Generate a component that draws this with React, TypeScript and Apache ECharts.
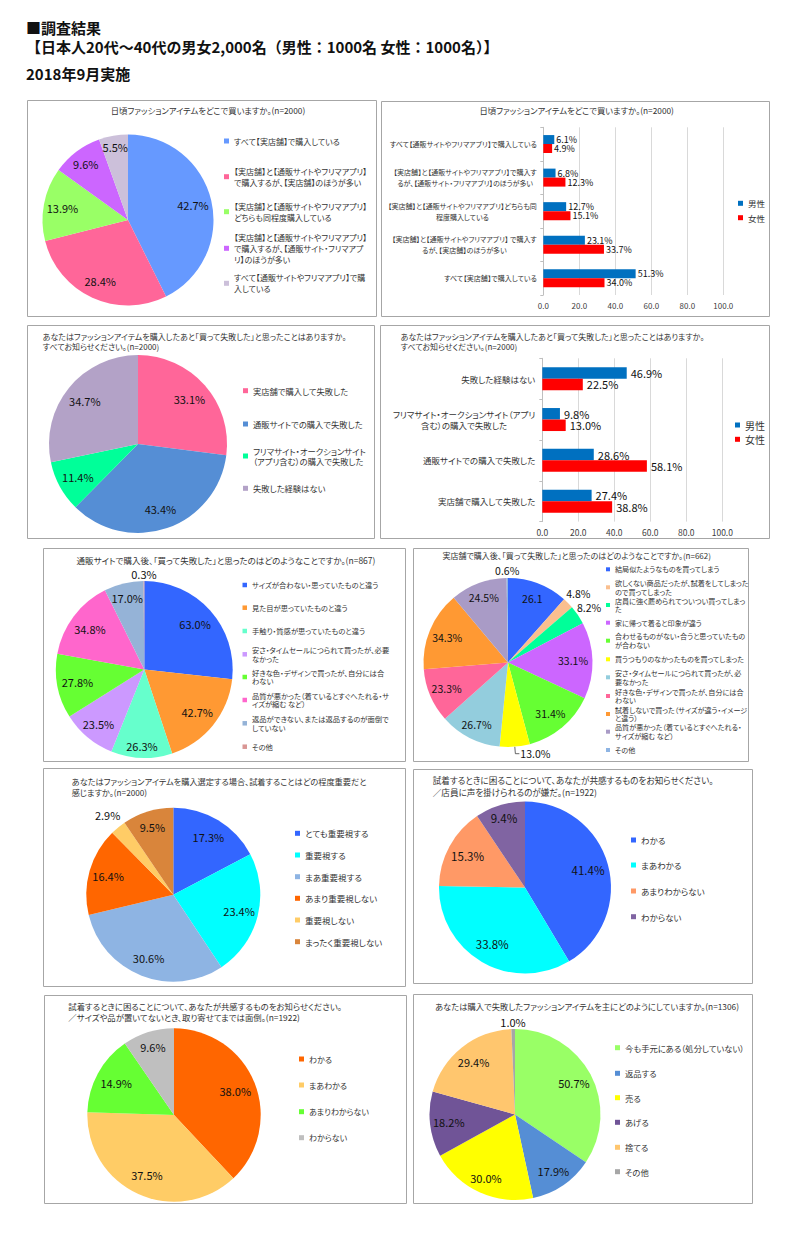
import React, { useEffect, useRef } from 'react';
import * as echarts from 'echarts';

const FONT = '"Noto Sans CJK JP", "Noto Sans", sans-serif';
const INK = '#333333';
const LABEL_INK = '#111111';
const BORDER = '#A6A6A6';

// ---------------- Header ----------------
const headerLines = ['■調査結果', '【日本人20代～40代の男女2,000名（男性：1000名 女性：1000名）】', '2018年9月実施'];

// ---------------- Panel 1 (pie) ----------------
const p1Title = '日頃ファッションアイテムをどこで買いますか。(n=2000)';
const p1Names = [
  'すべて【実店舗】で購入している',
  '【実店舗】と【通販サイトやフリマアプリ】で購入するが、【実店舗】のほうが多い',
  '【実店舗】と【通販サイトやフリマアプリ】どちらも同程度購入している',
  '【実店舗】と【通販サイトやフリマアプリ】で購入するが、【通販サイト・フリマアプリ】のほうが多い',
  'すべて【通販サイトやフリマアプリ】で購入している',
];
const p1Legend = [
  'すべて【実店舗】で購入している',
  '【実店舗】と【通販サイトやフリマアプリ】\nで購入するが、【実店舗】のほうが多い',
  '【実店舗】と【通販サイトやフリマアプリ】\nどちらも同程度購入している',
  '【実店舗】と【通販サイトやフリマアプリ】\nで購入するが、【通販サイト・フリマアプ\nリ】のほうが多い',
  'すべて【通販サイトやフリマアプリ】で購\n入している',
];
const p1Values = [42.7, 28.4, 13.9, 9.6, 5.5];
const p1Colors = ['#6699FF', '#FF6699', '#99FF66', '#CC66FF', '#CCC0DA'];

// ---------------- Panel 2 (bars) ----------------
const p2Title = '日頃ファッションアイテムをどこで買いますか。(n=2000)';
const p2Categories = [
  'すべて【実店舗】で購入している',
  '【実店舗】と【通販サイトやフリマアプリ】 で購入す\nるが、【実店舗】のほうが多い',
  '【実店舗】と【通販サイトやフリマアプリ】どちらも同\n程度購入している',
  '【実店舗】と【通販サイトやフリマアプリ】で購入す\nるが、【通販サイト・フリマアプリ】のほうが多い',
  'すべて【通販サイトやフリマアプリ】で購入している',
];
const p2Male = [51.3, 23.1, 12.7, 6.8, 6.1];
const p2Female = [34.0, 33.7, 15.1, 12.3, 4.9];

const genderNames = ['男性', '女性'];
const genderColors = ['#0070C0', '#FF0000'];
const valueAxisMin = 0;
const valueAxisMax = 100;
const valueAxisStep = 20;

// ---------------- Panel 3 (pie) ----------------
const p3Title = 'あなたはファッションアイテムを購入したあと「買って失敗した」と思ったことはありますか。\nすべてお知らせください。(n=2000)';
const p3Names = ['実店舗で購入して失敗した', '通販サイトでの購入で失敗した', 'フリマサイト・オークションサイト（アプリ含む）の購入で失敗した', '失敗した経験はない'];
const p3Legend = ['実店舗で購入して失敗した', '通販サイトでの購入で失敗した', 'フリマサイト・オークションサイト\n（アプリ含む）の購入で失敗した', '失敗した経験はない'];
const p3Values = [33.1, 43.4, 11.4, 34.7];
const p3Colors = ['#FF6699', '#558ED5', '#00FF99', '#B3A2C7'];

// ---------------- Panel 4 (bars) ----------------
const p4Title = p3Title;
const p4Categories = [
  '実店舗で購入して失敗した',
  '通販サイトでの購入で失敗した',
  'フリマサイト・オークションサイト（アプリ\n含む）の購入で失敗した',
  '失敗した経験はない',
];
const p4Male = [27.4, 28.6, 9.8, 46.9];
const p4Female = [38.8, 58.1, 13.0, 22.5];

// ---------------- Panel 5 (pie) ----------------
const p5Title = '通販サイトで購入後、「買って失敗した」と思ったのはどのようなことですか。(n=867)';
const p5Names = [
  'サイズが合わない・思っていたものと違う',
  '見た目が思っていたものと違う',
  '手触り・質感が思っていたものと違う',
  '安さ・タイムセールにつられて買ったが、必要なかった',
  '好きな色・デザインで買ったが、自分には合わない',
  '品質が悪かった（着ているとすぐへたれる・サイズが縮む など）',
  '返品ができない、または返品するのが面倒でしていない',
  'その他',
];
const p5Legend = [
  'サイズが合わない・思っていたものと違う',
  '見た目が思っていたものと違う',
  '手触り・質感が思っていたものと違う',
  '安さ・タイムセールにつられて買ったが、必要\nなかった',
  '好きな色・デザインで買ったが、自分には合\nわない',
  '品質が悪かった（着ているとすぐへたれる・サ\nイズが縮む など）',
  '返品ができない、または返品するのが面倒で\nしていない',
  'その他',
];
const p5Values = [63.0, 42.7, 26.3, 23.5, 27.8, 34.8, 17.0, 0.3];
const p5Colors = ['#3366FF', '#FF9933', '#66FFCC', '#CC99FF', '#66FF33', '#FF66CC', '#95B3D7', '#D99694'];

// ---------------- Panel 6 (pie) ----------------
const p6Title = '実店舗で購入後、「買って失敗した」と思ったのはどのようなことですか。(n=662)';
const p6Names = [
  '結局似たようなものを買ってしまう',
  '欲しくない商品だったが、試着をしてしまったので買ってしまった',
  '店員に強く薦められてついつい買ってしまった',
  '家に帰って着ると印象が違う',
  '合わせるものがない・合うと思っていたものが合わない',
  '買うつもりのなかったものを買ってしまった',
  '安さ・タイムセールにつられて買ったが、必要なかった',
  '好きな色・デザインで買ったが、自分には合わない',
  '試着しないで買った（サイズが違う・イメージと違う）',
  '品質が悪かった（着ているとすぐへたれる・サイズが縮む など）',
  'その他',
];
const p6Legend = [
  '結局似たようなものを買ってしまう',
  '欲しくない商品だったが、試着をしてしまった\nので買ってしまった',
  '店員に強く薦められてついつい買ってしまっ\nた',
  '家に帰って着ると印象が違う',
  '合わせるものがない・合うと思っていたもの\nが合わない',
  '買うつもりのなかったものを買ってしまった',
  '安さ・タイムセールにつられて買ったが、必\n要なかった',
  '好きな色・デザインで買ったが、自分には合\nわない',
  '試着しないで買った（サイズが違う・イメージ\nと違う）',
  '品質が悪かった（着ているとすぐへたれる・\nサイズが縮む など）',
  'その他',
];
const p6Values = [26.1, 4.8, 8.2, 33.1, 31.4, 13.0, 26.7, 23.3, 34.3, 24.5, 0.6];
const p6Colors = ['#3366FF', '#FABF8F', '#00FF99', '#CC66FF', '#66FF33', '#FFFF00', '#93CDDD', '#FF6699', '#FF9933', '#A99BC6', '#8EB4E3'];

// ---------------- Panel 7 (pie) ----------------
const p7Title = 'あなたはファッションアイテムを購入選定する場合、試着することはどの程度重要だと\n感じますか。(n=2000)';
const p7Names = ['とても重要視する', '重要視する', 'まあ重要視する', 'あまり重要視しない', '重要視しない', 'まったく重要視しない'];
const p7Values = [17.3, 23.4, 30.6, 16.4, 2.9, 9.5];
const p7Colors = ['#3366FF', '#00FFFF', '#8EB4E3', '#FF6600', '#FFCC66', '#D9853B'];

// ---------------- Panel 8 (pie) ----------------
const p8Title = '試着するときに困ることについて、あなたが共感するものをお知らせください。\n／店員に声を掛けられるのが嫌だ。(n=1922)';
const p8Names = ['わかる', 'まあわかる', 'あまりわからない', 'わからない'];
const p8Values = [41.4, 33.8, 15.3, 9.4];
const p8Colors = ['#3366FF', '#00FFFF', '#FF9966', '#8064A2'];

// ---------------- Panel 9 (pie) ----------------
const p9Title = '試着するときに困ることについて、あなたが共感するものをお知らせください。\n／サイズや品が置いてないとき、取り寄せてまでは面倒。(n=1922)';
const p9Names = ['わかる', 'まあわかる', 'あまりわからない', 'わからない'];
const p9Values = [38.0, 37.5, 14.9, 9.6];
const p9Colors = ['#FF6600', '#FFCC66', '#66FF33', '#BFBFBF'];

// ---------------- Panel 10 (pie) ----------------
const p10Title = 'あなたは購入で失敗したファッションアイテムを主にどのようにしていますか。(n=1306)';
const p10Names = ['今も手元にある（処分していない）', '返品する', '売る', 'あげる', '捨てる', 'その他'];
const p10Values = [50.7, 17.9, 30.0, 18.2, 29.4, 1.0];
const p10Colors = ['#99FF66', '#558ED5', '#FFFF00', '#705497', '#FFC66E', '#A6A6A6'];

// ================= helpers =================
type LegendLayout = { x: number; ys: number[]; size: number; lh: number; icon: number };
type TitleLayout = { x: number; y: number; align: 'left' | 'center'; size: number; lh: number };

function measure(s: string, size: number): number {
  const sp = document.createElement('span');
  sp.style.cssText = `position:absolute;left:-9999px;top:0;visibility:hidden;white-space:pre;font-size:${size}px;font-family:${FONT};font-feature-settings:"palt" 1;`;
  sp.textContent = s;
  document.body.appendChild(sp);
  const w = sp.getBoundingClientRect().width;
  sp.remove();
  return w;
}

function borderRect(w: number, h: number) {
  return {
    type: 'rect',
    silent: true,
    z: -1,
    shape: { x: 0.5, y: 0.5, width: w - 1, height: h - 1 },
    style: { fill: '#fff', stroke: BORDER, lineWidth: 1 },
  };
}

function titleText(text: string, t: TitleLayout, bx: number, by: number) {
  return {
    type: 'text',
    silent: true,
    x: t.x - bx,
    y: t.y - by - t.lh / 2,
    style: {
      text,
      fill: INK,
      font: `${t.size}px ${FONT}`,
      align: t.align,
      verticalAlign: 'top',
      lineHeight: t.lh,
    },
  };
}

function legendComps(names: string[], texts: string[], lg: LegendLayout, bx: number, by: number) {
  return names.map((n, i) => {
    const lines = texts[i].split('\n').length;
    const pad = (lines - 1) * lg.lh;
    return {
      show: true,
      orient: 'vertical',
      left: lg.x - lg.icon - 5 - bx,
      top: lg.ys[i] - by - lg.lh / 2 - pad,
      padding: 0,
      itemGap: 0,
      itemWidth: lg.icon,
      itemHeight: lg.icon,
      icon: 'rect',
      selectedMode: false,
      formatter: () => texts[i],
      textStyle: { fontSize: lg.size, lineHeight: lg.lh, color: INK, fontFamily: FONT },
      data: [{ name: n, icon: 'rect', textStyle: { padding: [pad, 0, 0, 0], backgroundColor: 'rgba(0,0,0,0)' } }],
    };
  });
}

type PieLayout = {
  box: number[];
  title: TitleLayout;
  center: number[];
  r: number;
  labelSize: number;
  factor: number;
  factors?: Record<number, number>;
  outside?: number[];
  plain?: number[];
  legend: LegendLayout;
};

function pieOption(title: string, names: string[], legendTexts: string[], values: number[], colors: string[], L: PieLayout) {
  const [bx, by, bw, bh] = L.box;
  const cx = L.center[0] - bx;
  const cy = L.center[1] - by;
  const outside = L.outside || [];
  const plain = L.plain || [];
  return {
    animation: false,
    textStyle: { fontFamily: FONT },
    graphic: [borderRect(bw, bh), titleText(title, L.title, bx, by)],
    legend: legendComps(names, legendTexts, L.legend, bx, by),
    series: [
      {
        type: 'pie',
        center: [cx, cy],
        radius: L.r,
        startAngle: 90,
        clockwise: true,
        avoidLabelOverlap: false,
        silent: true,
        label: {
          show: true,
          position: 'inside',
          fontSize: L.labelSize,
          fontFamily: FONT,
          color: LABEL_INK,
          formatter: (p: any) => (plain.includes(p.dataIndex) ? p.value.toFixed(1) : p.value.toFixed(1) + '%'),
        },
        labelLine: { show: false },
        labelLayout: (p: any) => {
          if (outside.includes(p.dataIndex)) return {};
          const f = (L.factors && L.factors[p.dataIndex]) || L.factor;
          const r = p.labelRect;
          const lx = r.x + r.width / 2;
          const ly = r.y + r.height / 2;
          const dx = lx - cx;
          const dy = ly - cy;
          const d = Math.hypot(dx, dy) || 1;
          return { x: cx + (dx / d) * f * L.r, y: cy + (dy / d) * f * L.r, align: 'center', verticalAlign: 'middle' };
        },
        data: names.map((n, i) => {
          const item: any = { name: n, value: values[i], itemStyle: { color: colors[i] } };
          if (outside.includes(i)) {
            item.label = { position: 'outside', distanceToLabelLine: 1 };
            item.labelLine = { show: true, length: 7, length2: 4, lineStyle: { color: '#404040', width: 0.8 } };
          }
          return item;
        }),
      },
    ],
  };
}

type BarLayout = {
  box: number[];
  title: TitleLayout;
  grid: number[];
  barW: number;
  catSize: number;
  catLH: number;
  catMargin: number;
  valSize: number;
  valDist: number;
  tickSize: number;
  tickMargin: number;
  legend: LegendLayout;
};

function barOption(title: string, cats: string[], male: number[], female: number[], L: BarLayout) {
  const [bx, by, bw, bh] = L.box;
  const rich: Record<string, any> = {};
  cats.forEach((c, i) => {
    const lines = c.split('\n');
    if (lines.length > 1) {
      rich['c' + i] = {
        width: Math.max(...lines.map((l) => measure(l, L.catSize))),
        align: 'center',
        fontSize: L.catSize,
        lineHeight: L.catLH,
        fontFamily: FONT,
        color: INK,
      };
    }
  });
  const seriesData = [male, female];
  return {
    animation: false,
    textStyle: { fontFamily: FONT },
    graphic: [borderRect(bw, bh), titleText(title, L.title, bx, by)],
    legend: legendComps(genderNames, genderNames, L.legend, bx, by),
    grid: { left: L.grid[0] - bx, top: L.grid[1] - by, width: L.grid[2], height: L.grid[3], outerBoundsMode: 'none' },
    xAxis: {
      type: 'value',
      min: valueAxisMin,
      max: valueAxisMax,
      interval: valueAxisStep,
      axisLabel: { formatter: (v: number) => v.toFixed(1), fontSize: L.tickSize, color: '#404040', margin: L.tickMargin, fontFamily: FONT },
      splitLine: { lineStyle: { color: '#D9D9D9', width: 1 } },
      axisLine: { show: false },
      axisTick: { show: false },
    },
    yAxis: {
      type: 'category',
      data: cats,
      axisLine: { lineStyle: { color: '#BFBFBF' } },
      axisTick: { show: true, length: 3, lineStyle: { color: '#BFBFBF' } },
      axisLabel: {
        fontSize: L.catSize,
        lineHeight: L.catLH,
        color: INK,
        fontFamily: FONT,
        margin: L.catMargin,
        formatter: (v: string, i: number) => {
          const lines = v.split('\n');
          return lines.length > 1 ? lines.map((l) => `{c${i}|${l}}`).join('\n') : v;
        },
        rich,
      },
    },
    series: genderNames.map((g, k) => ({
      name: g,
      type: 'bar',
      data: seriesData[k],
      barWidth: L.barW,
      barGap: '0%',
      itemStyle: { color: genderColors[k] },
      label: {
        show: true,
        position: 'right',
        distance: L.valDist,
        fontSize: L.valSize,
        lineHeight: L.barW,
        fontFamily: FONT,
        color: LABEL_INK,
        formatter: (p: any) => p.value.toFixed(1) + '%',
      },
    })),
  };
}

function headerOption() {
  const ys = [27.5, 46.7, 73.3];
  return {
    animation: false,
    graphic: headerLines.map((t, i) => ({
      type: 'text',
      silent: true,
      x: 26,
      y: ys[i],
      style: { text: t, fill: '#111', font: `bold 15px ${FONT}`, align: 'left', verticalAlign: 'middle' },
    })),
  };
}

// ================= layouts =================
const L1: PieLayout = {
  box: [27, 100, 350, 217],
  title: { x: 208, y: 110, align: 'center', size: 8.3, lh: 10 },
  center: [128, 220],
  r: 85.5,
  labelSize: 11,
  factor: 0.78,
  factors: { 3: 0.82, 4: 0.87 },
  legend: { x: 234, ys: [141, 176.7, 211.7, 248.3, 283.3], size: 8, lh: 11, icon: 5 },
};
const B2: BarLayout = {
  box: [381, 101, 389, 216],
  title: { x: 576.7, y: 110, align: 'center', size: 8.3, lh: 10 },
  grid: [543.3, 127.3, 180, 167.7],
  barW: 9,
  catSize: 7,
  catLH: 11,
  catMargin: 6.5,
  valSize: 9,
  valDist: 2,
  tickSize: 8,
  tickMargin: 6,
  legend: { x: 748, ys: [203.3, 217.7], size: 8.5, lh: 11, icon: 5 },
};
const L3: PieLayout = {
  box: [27, 325, 348, 214],
  title: { x: 42.7, y: 336, align: 'left', size: 8, lh: 10 },
  center: [138, 444],
  r: 89,
  labelSize: 11,
  factor: 0.77,
  legend: { x: 253, ys: [390.7, 424, 456, 488.3], size: 8.3, lh: 10.7, icon: 5 },
};
const B4: BarLayout = {
  box: [380, 325, 390, 214],
  title: { x: 400.7, y: 336, align: 'left', size: 8, lh: 10 },
  grid: [542.3, 358.3, 180, 163.3],
  barW: 11.5,
  catSize: 8.5,
  catLH: 11,
  catMargin: 7,
  valSize: 11,
  valDist: 4,
  tickSize: 8.5,
  tickMargin: 6,
  legend: { x: 745, ys: [425, 439.3], size: 10, lh: 12, icon: 5 },
};
const L5: PieLayout = {
  box: [43, 548, 363, 214],
  title: { x: 226, y: 560, align: 'center', size: 8.5, lh: 10 },
  center: [144.3, 669.5],
  r: 88.4,
  labelSize: 11,
  factor: 0.77,
  factors: { 2: 0.87, 3: 0.81, 6: 0.83, 7: 1.08 },
  legend: { x: 252, ys: [585, 607.7, 631, 654.3, 677, 700, 723.3, 746.7], size: 7.3, lh: 8.8, icon: 4.5 },
};
const L6: PieLayout = {
  box: [413, 548, 336, 214],
  title: { x: 576.7, y: 555, align: 'center', size: 8, lh: 10 },
  center: [508, 662.5],
  r: 84.5,
  labelSize: 10.5,
  factor: 0.78,
  factors: { 0: 0.81, 1: 1.17, 2: 1.16, 3: 0.77, 6: 0.82, 7: 0.79, 9: 0.82, 10: 1.09 },
  outside: [5],
  plain: [0],
  legend: { x: 615, ys: [569.3, 587.3, 605, 622.7, 640.7, 659.3, 677.3, 696, 714, 731.7, 750], size: 7.1, lh: 8.8, icon: 4 },
};
const L7: PieLayout = {
  box: [43, 768, 363, 219],
  title: { x: 71.7, y: 781, align: 'left', size: 8.2, lh: 10.7 },
  center: [173.3, 894.7],
  r: 87,
  labelSize: 11,
  factor: 0.78,
  factors: { 4: 1.19, 5: 0.82 },
  legend: { x: 305, ys: [833.3, 855, 876.7, 898.3, 920, 941.7], size: 8.5, lh: 11, icon: 5 },
};
const L8: PieLayout = {
  box: [413, 769, 340, 215],
  title: { x: 432.7, y: 780, align: 'left', size: 8.6, lh: 12 },
  center: [525, 887.5],
  r: 86,
  labelSize: 11.5,
  factor: 0.76,
  factors: { 3: 0.84 },
  legend: { x: 641, ys: [840, 865, 891, 916.7], size: 8.5, lh: 11, icon: 5 },
};
const L9: PieLayout = {
  box: [44, 995, 363, 209],
  title: { x: 68.3, y: 1005.7, align: 'left', size: 8.4, lh: 11 },
  center: [174, 1115],
  r: 86.7,
  labelSize: 11,
  factor: 0.76,
  factors: { 3: 0.82 },
  legend: { x: 309, ys: [1059, 1085, 1111.7, 1137.7], size: 8, lh: 11, icon: 5 },
};
const L10: PieLayout = {
  box: [413, 994, 340, 210],
  title: { x: 587, y: 1005.7, align: 'center', size: 8.3, lh: 11 },
  center: [515, 1114.5],
  r: 85.5,
  labelSize: 11,
  factor: 0.78,
  factors: { 1: 0.8, 2: 0.82, 5: 1.08 },
  legend: { x: 625, ys: [1047.7, 1073.3, 1097.7, 1122.3, 1147.3, 1171.7], size: 8.3, lh: 11, icon: 5 },
};

function Panel({ box, build, palt = true }: { box: number[]; build: () => any; palt?: boolean }) {
  const ref = useRef<HTMLDivElement>(null);
  useEffect(() => {
    const chart = echarts.init(ref.current!, null, { renderer: 'svg' });
    chart.setOption(build());
    return () => chart.dispose();
  }, []);
  return (
    <div
      ref={ref}
      className={palt ? 'palt' : undefined}
      style={{ position: 'absolute', left: box[0], top: box[1], width: box[2], height: box[3] }}
    />
  );
}

export default function App() {
  return (
    <div style={{ position: 'absolute', left: 0, top: 0, width: 800, height: 1236, background: '#fff', overflow: 'hidden' }}>
      <style>{'.palt svg text { font-feature-settings: "palt" 1 !important; }'}</style>
      <Panel box={[0, 0, 800, 95]} build={headerOption} palt={false} />
      <Panel box={L1.box} build={() => pieOption(p1Title, p1Names, p1Legend, p1Values, p1Colors, L1)} />
      <Panel box={B2.box} build={() => barOption(p2Title, p2Categories, p2Male, p2Female, B2)} />
      <Panel box={L3.box} build={() => pieOption(p3Title, p3Names, p3Legend, p3Values, p3Colors, L3)} />
      <Panel box={B4.box} build={() => barOption(p4Title, p4Categories, p4Male, p4Female, B4)} />
      <Panel box={L5.box} build={() => pieOption(p5Title, p5Names, p5Legend, p5Values, p5Colors, L5)} />
      <Panel box={L6.box} build={() => pieOption(p6Title, p6Names, p6Legend, p6Values, p6Colors, L6)} />
      <Panel box={L7.box} build={() => pieOption(p7Title, p7Names, p7Names, p7Values, p7Colors, L7)} />
      <Panel box={L8.box} build={() => pieOption(p8Title, p8Names, p8Names, p8Values, p8Colors, L8)} />
      <Panel box={L9.box} build={() => pieOption(p9Title, p9Names, p9Names, p9Values, p9Colors, L9)} />
      <Panel box={L10.box} build={() => pieOption(p10Title, p10Names, p10Names, p10Values, p10Colors, L10)} />
    </div>
  );
}
